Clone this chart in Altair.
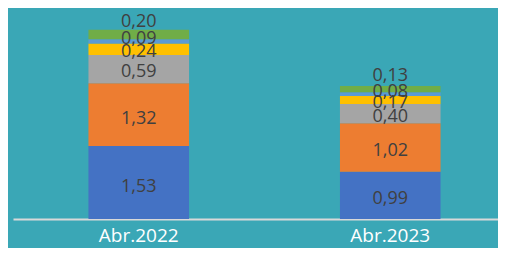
import altair as alt
import pandas as pd

categories = ["Abr.2022", "Abr.2023"]
series = ["Serie 1", "Serie 2", "Serie 3", "Serie 4", "Serie 5", "Serie 6"]
values_2022 = [1.53, 1.32, 0.59, 0.24, 0.09, 0.20]
values_2023 = [0.99, 1.02, 0.40, 0.17, 0.08, 0.13]

colors = ["#4472C4", "#ED7D31", "#A5A5A5", "#FFC000", "#5B9BD5", "#70AD47"]
label_dy = [4, 4, 3, 3, -2, -13]

rows = []
for cat, vals in zip(categories, [values_2022, values_2023]):
    for i, (s, v) in enumerate(zip(series, vals)):
        rows.append({"cat": cat, "series": s, "value": v, "order": i})
df = pd.DataFrame(rows)

FONT = "Open Sans"

base = alt.Chart(df).transform_stack(
    stack="value", groupby=["cat"], sort=[alt.SortField("order", order="ascending")], as_=["y0", "y1"]
).transform_calculate(
    mid="(datum.y0 + datum.y1) / 2",
    label="replace(format(datum.value, '.2f'), '.', ',')",
)

xenc = alt.X(
    "cat:N",
    sort=categories,
    scale=alt.Scale(range=[0, 503], paddingInner=0.6, paddingOuter=0.3),
    axis=alt.Axis(
        title=None, labelAngle=0, ticks=False, domainColor="#d9d9d9", domainWidth=2,
        labelColor="white", labelFont=FONT, labelFontSize=19, labelPadding=7,
    ),
)
yscale = alt.Scale(domain=[0, 4.30], nice=False, zero=True)

bars = base.mark_bar().encode(
    x=xenc,
    y=alt.Y("y0:Q", scale=yscale, axis=None),
    y2="y1:Q",
    color=alt.Color("series:N", scale=alt.Scale(domain=series, range=colors), legend=None),
)

layers = [bars]
for s, dy in zip(series, label_dy):
    layers.append(
        base.transform_filter(alt.datum.series == s).mark_text(
            font=FONT, fontSize=18, color="#404040", dy=dy
        ).encode(
            x=alt.X("cat:N", sort=categories),
            y=alt.Y("mid:Q", scale=yscale),
            text="label:N",
        )
    )

chart = alt.layer(*layers).properties(
    width=485, height=205, background="#3aa7b6",
    padding={"left": 5, "top": 6, "right": 0, "bottom": 29},
    autosize=alt.AutoSizeParams(type="none"),
).configure_view(stroke=None)

chart.save("out.html", embed_options={"renderer": "svg", "actions": False})
